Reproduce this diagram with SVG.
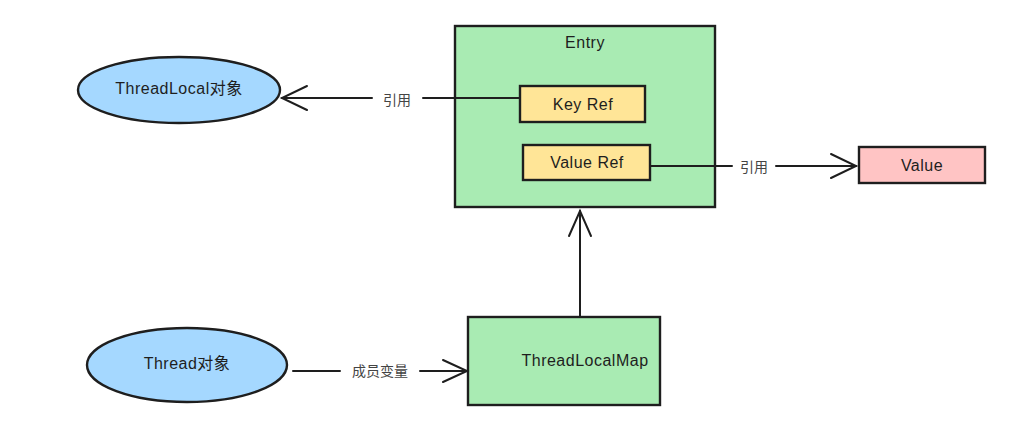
<svg xmlns="http://www.w3.org/2000/svg" width="1013" height="436" viewBox="0 0 1013 436">
<style>
.shape{stroke:#1e1e1e;stroke-width:2.4;}
.green{fill:#a9ebb3;}
.blue{fill:#a5d8ff;}
.yellow{fill:#ffe597;}
.pink{fill:#ffc4c4;}
.t{font-family:"Liberation Sans","Noto Sans CJK SC",sans-serif;font-size:16px;letter-spacing:0.5px;fill:#1e1e1e;text-anchor:middle;dominant-baseline:central;}
.lbl{font-family:"Noto Sans CJK SC","Liberation Sans",sans-serif;font-size:14px;fill:#444;text-anchor:middle;dominant-baseline:central;}
.conn{stroke:#1e1e1e;stroke-width:2;fill:none;stroke-linecap:round;}
</style>
<rect width="1013" height="436" fill="#ffffff"/>
<g id="entry">
<rect class="shape green" x="455" y="26" width="260" height="181"/>
<text class="t" x="585" y="42">Entry</text>
</g>
<g id="keyref">
<rect class="shape yellow" x="520" y="86" width="125" height="36"/>
<text class="t" x="583" y="104">Key Ref</text>
</g>
<g id="valueref">
<rect class="shape yellow" x="523" y="145" width="127" height="35"/>
<text class="t" x="587" y="162">Value Ref</text>
</g>
<g id="threadlocal">
<ellipse class="shape blue" cx="179" cy="90" rx="101" ry="33"/>
<text class="t" x="179" y="88">ThreadLocal对象</text>
</g>
<g id="value">
<rect class="shape pink" x="859" y="147" width="126" height="36"/>
<text class="t" x="922" y="165">Value</text>
</g>
<g id="thread">
<ellipse class="shape blue" cx="187" cy="365" rx="100" ry="37"/>
<text class="t" x="187" y="363">Thread对象</text>
</g>
<g id="threadlocalmap">
<rect class="shape green" x="468" y="317" width="192" height="88"/>
<text class="t" x="585" y="360">ThreadLocalMap</text>
</g>
<g id="connectors">
<path class="conn" d="M520 98 L423 98 M372 98 L282 98"/>
<path class="conn" d="M307 86 L282 98 L307 110"/>
<text class="lbl" x="397" y="99">引用</text>
<path class="conn" d="M650 166 L732 166 M776 166 L856 166"/>
<path class="conn" d="M831 154 L856 166 L831 178"/>
<text class="lbl" x="754" y="166">引用</text>
<path class="conn" d="M293 371 L340 371 M420 371 L467 371"/>
<path class="conn" d="M443 360 L467 371 L443 382"/>
<text class="lbl" x="380" y="370">成员变量</text>
<path class="conn" d="M580 316 L580 211"/>
<path class="conn" d="M569 236 L580 211 L591 236"/>
</g>
</svg>
